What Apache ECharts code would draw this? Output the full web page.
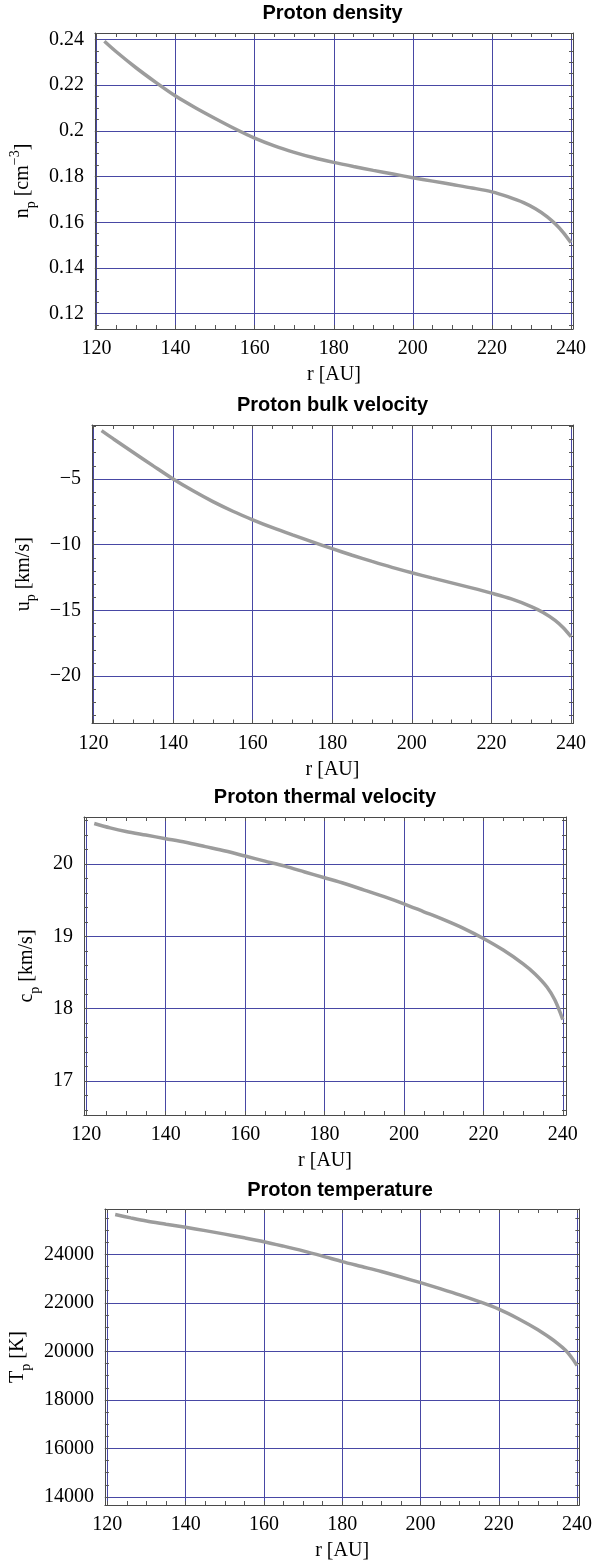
<!DOCTYPE html>
<html><head><meta charset="utf-8">
<script src="https://cdn.jsdelivr.net/npm/echarts@6/dist/echarts.min.js"></script>
<style>html,body{margin:0;padding:0;background:#fff}#c{width:595px;height:1564px}</style>
</head><body><div id="c"></div>
<script>
// ---- data ----
const rDensity = [122,125,130,135,140,145,150,155,160,165,170,175,180,185,190,195,200,205,210,215,220,224,228,231,234,236,238,240];
const density  = [0.2392,0.2346,0.2276,0.2212,0.2152,0.2101,0.2054,0.2009,0.1968,0.1934,0.1906,0.1882,0.1862,0.1844,0.1827,0.1811,0.1795,0.1780,0.1765,0.1750,0.1733,0.1712,0.1686,0.1659,0.1624,0.1593,0.1556,0.1510];

const rBulk = [122,125,130,135,140,145,150,155,160,165,170,175,180,185,190,195,200,205,210,215,220,225,230,233,236,238,240];
const bulkVelocity = [-1.32,-1.95,-2.98,-4.0,-5.0,-5.9,-6.72,-7.45,-8.1,-8.7,-9.25,-9.78,-10.3,-10.8,-11.27,-11.72,-12.13,-12.52,-12.9,-13.28,-13.68,-14.12,-14.7,-15.15,-15.75,-16.3,-17.0];

const rThermal = [122,126,130,135,140,145,150,155,160,165,170,175,180,185,190,195,200,205,210,215,220,225,230,233,236,238,240];
const thermalVelocity = [20.56,20.50,20.45,20.40,20.35,20.30,20.24,20.18,20.11,20.04,19.97,19.89,19.81,19.73,19.64,19.55,19.45,19.34,19.23,19.11,18.97,18.81,18.62,18.48,18.30,18.12,17.85];

const rTemp = [122,126,130,135,140,145,150,155,160,165,170,175,180,185,190,195,200,205,210,215,220,225,230,233,235,237,238,239,240];
const temperature = [25640,25500,25370,25240,25110,24975,24830,24680,24520,24335,24140,23925,23700,23495,23290,23065,22830,22585,22330,22050,21740,21345,20890,20570,20330,20060,19880,19660,19410];

const xTickLabels = [120,140,160,180,200,220,240];
const densityTicks = [0.12,0.14,0.16,0.18,0.2,0.22,0.24];
const bulkTicks = [-20,-15,-10,-5];
const thermalTicks = [17,18,19,20];
const tempTicks = [14000,16000,18000,20000,22000,24000];
const titles = ['Proton density','Proton bulk velocity','Proton thermal velocity','Proton temperature'];
const yNames = ['{b|n}{s|p}{b| [cm}{u|\u22123}{b|]}','{b|u}{s|p}{b| [km/s]}','{b|c}{s|p}{b| [km/s]}','{b|T}{s|p}{b| [K]}'];
const xName = 'r [AU]';

// ---- layout ----
const panels = [
  {left:92, top:33,   width:481, height:296,   xMin:119.6,  xMax:240.5, yMin:0.1133, yMax:0.2428, yMinor:0.005, titleY:13,   yGap:51, r:rDensity, v:density,         ticks:densityTicks},
  {left:92, top:425,  width:481, height:298.5, xMin:119.6,  xMax:240.5, yMin:-23.6,  yMax:-0.89,  yMinor:1,     titleY:405,  yGap:51, r:rBulk,    v:bulkVelocity,    ticks:bulkTicks},
  {left:84, top:817,  width:482, height:298,   xMin:119.42, xMax:240.8, yMin:16.53,  yMax:20.65,  yMinor:0.2,   titleY:797,  yGap:35, r:rThermal, v:thermalVelocity, ticks:thermalTicks},
  {left:99, top:1209, width:482, height:296,   xMin:119.37, xMax:240.6, yMin:13670,  yMax:25866,  yMinor:500,   titleY:1190, yGap:64, r:rTemp,    v:temperature,     ticks:tempTicks}
];

function stepValues(min, max, step) {
  const out = [];
  for (let k = Math.ceil(min / step - 1e-9); k * step <= max + 1e-9; k++) {
    out.push(Math.round(k * step * 1e6) / 1e6);
  }
  return out;
}

const serif = 'Liberation Serif';
const frameColor = '#4a4a4a';
const gridColor = '#4848a4';
const fmt = v => String(v).replace('-', '\u2212');

const grid = [], xAxis = [], yAxis = [], series = [], graphic = [];
panels.forEach((p, i) => {
  grid.push({left:p.left, top:p.top, width:p.width, height:p.height, containLabel:false});
  const xAll = stepValues(p.xMin, p.xMax, 5);
  const yAll = stepValues(p.yMin, p.yMax, p.yMinor);
  const common = {type:'value', gridIndex:i};
  const tickStyle = {show:true, inside:true, length:4, lineStyle:{color:'#555', width:1}};
  // x axes
  xAxis.push(Object.assign({}, common, {
    position:'bottom', min:p.xMin, max:p.xMax,
    axisLine:{show:true, onZero:false, lineStyle:{color:frameColor, width:1}},
    axisTick:Object.assign({customValues:xAll}, tickStyle),
    axisLabel:{show:true, customValues:xTickLabels, margin:10, color:'#000', fontFamily:serif, fontSize:20, formatter:fmt},
    splitLine:{show:false},
    name:xName, nameLocation:'middle', nameGap:36,
    nameTextStyle:{color:'#000', fontFamily:serif, fontSize:20}
  }));
  xAxis.push(Object.assign({}, common, {
    position:'top', min:p.xMin, max:p.xMax,
    axisLine:{show:true, onZero:false, lineStyle:{color:frameColor, width:1}},
    axisTick:Object.assign({customValues:xAll}, tickStyle),
    axisLabel:{show:false}, splitLine:{show:false}
  }));
  xAxis.push(Object.assign({}, common, {
    position:'bottom', min:p.xMin, max:p.xMax,
    axisLine:{show:false, onZero:false},
    axisTick:{show:false, customValues:xTickLabels},
    axisLabel:{show:false},
    splitLine:{show:true, lineStyle:{color:gridColor, width:1}}
  }));
  // y axes
  yAxis.push(Object.assign({}, common, {
    position:'left', min:p.yMin, max:p.yMax,
    axisLine:{show:true, onZero:false, lineStyle:{color:frameColor, width:1}},
    axisTick:Object.assign({customValues:yAll}, tickStyle),
    axisLabel:{show:true, customValues:p.ticks, margin:11, color:'#000', fontFamily:serif, fontSize:20, formatter:fmt},
    splitLine:{show:false},
    name:yNames[i], nameLocation:'middle', nameRotate:90, nameGap:p.yGap,
    nameTextStyle:{
      color:'#000', fontFamily:serif, fontSize:20,
      rich:{
        b:{fontFamily:serif, fontSize:20, lineHeight:30, color:'#000'},
        s:{fontFamily:serif, fontSize:14, verticalAlign:'bottom', color:'#000'},
        u:{fontFamily:serif, fontSize:14, verticalAlign:'top', color:'#000'}
      }
    }
  }));
  yAxis.push(Object.assign({}, common, {
    position:'right', min:p.yMin, max:p.yMax,
    axisLine:{show:true, onZero:false, lineStyle:{color:frameColor, width:1}},
    axisTick:Object.assign({customValues:yAll}, tickStyle),
    axisLabel:{show:false}, splitLine:{show:false}
  }));
  yAxis.push(Object.assign({}, common, {
    position:'left', min:p.yMin, max:p.yMax,
    axisLine:{show:false, onZero:false},
    axisTick:{show:false, customValues:p.ticks},
    axisLabel:{show:false},
    splitLine:{show:true, lineStyle:{color:gridColor, width:1}}
  }));
  series.push({
    type:'line', xAxisIndex:3*i, yAxisIndex:3*i,
    data:p.r.map((r, k) => [r, p.v[k]]),
    showSymbol:false, symbol:'none', smooth:0.3, z:5,
    lineStyle:{color:'#9c9c9c', width:3.5}
  });
  graphic.push({
    type:'text', x:p.left + p.width / 2, y:p.titleY, z:10,
    style:{text:titles[i], fontFamily:'Liberation Sans', fontWeight:'bold', fontSize:20,
           fill:'#000', align:'center', verticalAlign:'middle'}
  });
});

const chart = echarts.init(document.getElementById('c'), null, {renderer:'canvas'});
chart.setOption({animation:false, backgroundColor:'#fff', grid, xAxis, yAxis, series, graphic});
</script>
</body></html>
